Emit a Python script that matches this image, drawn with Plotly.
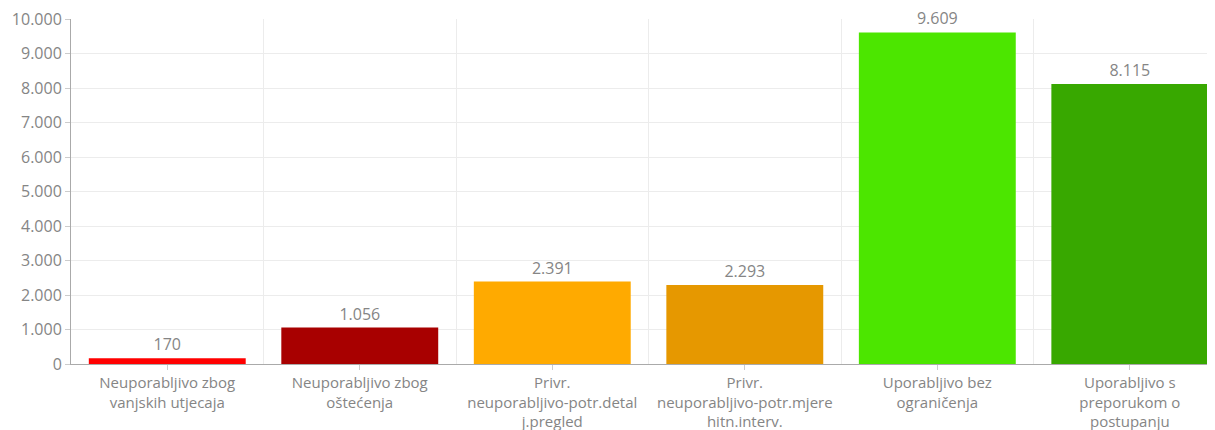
import plotly.graph_objects as go

categories = [
    "Neuporabljivo zbog<br>vanjskih utjecaja",
    "Neuporabljivo zbog<br>oštećenja",
    "Privr.<br>neuporabljivo-potr.detal<br>j.pregled",
    "Privr.<br>neuporabljivo-potr.mjere<br>hitn.interv.",
    "Uporabljivo bez<br>ograničenja",
    "Uporabljivo s<br>preporukom o<br>postupanju",
]
values = [170, 1056, 2391, 2293, 9609, 8115]
colors = ["#ff0000", "#a80000", "#ffaa00", "#e69800", "#4ce600", "#38a800"]
y_ticks = [0, 1000, 2000, 3000, 4000, 5000, 6000, 7000, 8000, 9000, 10000]

xpos = list(range(len(categories)))
font_family = "Open Sans, sans-serif"
gray = "#858585"

fig = go.Figure(
    go.Bar(
        x=xpos,
        y=values,
        marker=dict(color=colors, line=dict(width=0)),
        text=values,
        texttemplate="%{y:,d}",
        textposition="outside",
        textfont=dict(size=16, color=gray, family=font_family),
        cliponaxis=False,
        width=0.815,
    )
)

fig.update_layout(
    width=1215,
    height=430,
    margin=dict(l=63, r=0, t=11, b=74, autoexpand=False),
    paper_bgcolor="white",
    plot_bgcolor="white",
    separators=",.",
    showlegend=False,
    font=dict(family=font_family, size=16, color=gray),
    xaxis=dict(
        range=[-0.5, 5.484],
        tickvals=xpos,
        ticktext=categories,
        ticks="outside",
        ticklen=5,
        tickcolor="#cccccc",
        showgrid=False,
        zeroline=False,
        showline=True,
        linecolor="#aaaaaa",
        linewidth=1,
        automargin=False,
        tickfont=dict(size=15, color=gray, family=font_family),
        minor=dict(tick0=0.5, dtick=1, showgrid=True, gridcolor="#ececec", gridwidth=1, ticks=""),
        fixedrange=True,
    ),
    yaxis=dict(
        range=[0, 10000],
        tickvals=y_ticks,
        tickformat=",d",
        showgrid=True,
        gridcolor="#ececec",
        gridwidth=1,
        zeroline=False,
        showline=True,
        linecolor="#aaaaaa",
        linewidth=1,
        ticks="outside",
        ticklen=5,
        tickcolor="#cccccc",
        automargin=False,
        ticklabeloverflow="allow",
        tickfont=dict(size=16, color=gray, family=font_family),
        fixedrange=True,
    ),
)

fig.write_html("out.html")
